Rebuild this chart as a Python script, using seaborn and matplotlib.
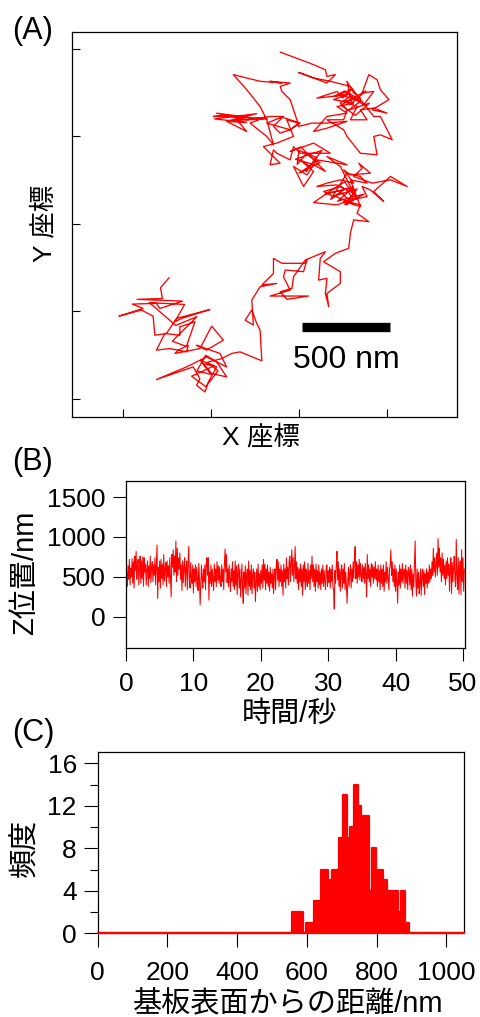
import numpy as np
import pandas as pd
import matplotlib
matplotlib.use("Agg")
import matplotlib.pyplot as plt
import seaborn as sns

# ---------------- data ----------------
# (A) lateral trajectory, nm
traj_x = [262, 213, 224, 80, 338, 209, 190, 53, 114, -23, 105, 171, 181, 247, 304, 494, 333, 295,
          350, 150, 300, 420, 280, 360,
          409, 323,
          323, 238, 190, 266, 361, 371, 314, 295, 437, 504, 570, 475, 418, 551, 589, 475, 361, 190, 399, 437,
          418, 466, 485, 532, 456, 504, 589, 532,
          470, 420, 500, 440, 520, 390, 470, 540, 480, 560,
          618, 665, 789, 779,
          760, 732, 694, 741, 732, 779, 874, 789, 855, 855, 903, 1036, 1045, 1026, 922, 912, 950, 836, 1055,
          931, 893, 960, 969, 1036, 1150, 1121, 1112, 1159, 1150, 1169, 1159, 1235, 1235, 1140, 1207, 1283,
          1292, 1311, 1397, 1330, 1349,
          1273, 1216, 1083, 1159, 1254, 1197, 1140, 1235, 1311, 1273, 1292, 1387, 1359, 1406, 1482, 1425,
          1520, 1615, 1520, 1416, 1311, 1359, 1340, 1406, 1292, 1254, 1311, 1235, 1159, 1102, 1216, 1273,
          1311, 1254, 1349, 1292, 1387, 1349, 1273,
          1180, 1240, 1300, 1200, 1330, 1260, 1370, 1290, 1220, 1310, 1150, 1260, 1330,
          1235, 1159, 1273, 1102, 1045, 969, 1026, 1083, 1007,
          1060, 1000, 1120, 1040, 990,
          1000, 1100, 1040, 1130, 980, 1080, 1150, 1010,
          950, 1083, 1178, 1007, 969, 950, 874, 855,
          836, 893, 798, 874, 969, 931, 998, 950, 893, 855, 912, 817, 950, 1007,
          893, 836, 703, 532, 675, 513,
          560, 820, 600, 760, 520, 700,
          589, 703, 646, 798, 722, 817, 855, 817, 779, 703, 627, 779, 903,
          836, 950, 893, 903, 950, 988, 998, 1074, 1159, 1273, 1159, 1083,
          1159, 1273, 1216, 1311, 1197, 1273, 1102, 1216,
          1250, 1300, 1230, 1320, 1260, 1200, 1290,
          1350, 1280, 1400, 1320, 1240, 1380, 1300,
          1273, 1311, 1349, 1254, 1330, 1292, 1387, 1349,
          1425, 1501, 1416, 1511, 1463, 1444, 1397, 1359, 1425, 1368, 1292, 1235, 1273, 1254, 1159, 1254,
          1273, 1349, 1444, 1425, 1463, 1530, 1463, 1425,
          1292, 1178, 1083, 998, 1159, 1207, 1159, 1150, 1083, 893]
traj_y = [693, 635, 574, 569, 559, 517, 546, 542, 517, 473, 508, 473, 364, 374, 460, 511, 460, 441,
          540, 550, 420, 470, 330, 300,
          441, 412,
          364, 374, 279, 288, 269, 307, 279, 260, 288, 416, 336, 279, 307, 260, 183, 240, 183, 111, 183, 116,
          78, 40, 97, 183, 202, 145, 126, 212,
          250, 160, 140, 220, 190, 130, 70, 160, 210, 230,
          260, 269, 218, 393,
          431, 508, 450, 422, 565, 641, 660, 651, 717, 803, 775, 775, 794, 727, 737, 698, 622, 588, 588,
          569, 612, 632, 698, 794, 841, 803, 679, 689, 603, 527, 603, 660, 727, 784, 832, 861,
          946, 1023, 1013, 1061, 1109,
          1128, 1109, 1122, 1175, 1194, 1156, 1185, 1214, 1175, 1109, 1137, 1156, 1214, 1194, 1128, 1185,
          1271, 1214, 1252, 1233, 1271, 1318, 1347, 1290, 1280, 1309, 1233, 1252, 1233, 1214, 1223, 1194,
          1137, 1128, 1099, 1252, 1233, 1271, 1290,
          1140, 1180, 1120, 1160, 1200, 1110, 1170, 1150, 1130, 1210, 1170, 1240, 1140,
          1328, 1385, 1338, 1366, 1280, 1328, 1214, 1299, 1366,
          1330, 1290, 1350, 1400, 1340,
          1420, 1380, 1300, 1420, 1370, 1340, 1300, 1440,
          1414, 1462, 1404, 1404, 1442, 1366, 1404, 1423,
          1338, 1347, 1442, 1462, 1500, 1595, 1576, 1538, 1519, 1557, 1614, 1576, 1538, 1576,
          1614, 1614, 1595, 1633, 1614, 1614,
          1620, 1600, 1590, 1630, 1600, 1580,
          1586, 1528, 1595, 1605, 1576, 1500, 1452, 1595, 1671, 1767, 1853, 1815, 1805,
          1815, 1805, 1786, 1757, 1710, 1595, 1557, 1576, 1576, 1586, 1547, 1528,
          1614, 1633, 1671, 1690, 1710, 1738, 1719, 1757,
          1720, 1770, 1740, 1710, 1760, 1730, 1745,
          1700, 1650, 1690, 1620, 1680, 1760, 1690,
          1815, 1748, 1719, 1700, 1671, 1595, 1595, 1652,
          1662, 1633, 1652, 1710, 1767, 1824, 1853, 1748, 1757, 1681, 1729, 1690, 1652, 1595, 1595, 1538,
          1500, 1404, 1395, 1500, 1509, 1481, 1614, 1614,
          1786, 1815, 1834, 1866, 1805, 1853, 1843, 1881, 1910, 1982]
scale_bar_x = [1020, 1520]
scale_bar_y = [412, 412]
scale_label = "500 nm"
tick_a_x = [0, 500, 1000, 1500]
tick_a_y = [0, 500, 1000, 1500, 2000]

# (B) Z position time series, nm (0.1 s sampling)
z_pos = [
    430, 560, 380, 640, 470, 720, 400, 610, 500, 730, 420, 690, 360, 760, 580, 820, 470, 660, 720, 400,
    610, 760, 420, 700, 480, 750, 380, 740, 560, 660, 400, 600, 700, 380, 640, 480, 760, 430, 620, 690,
    440, 650, 520, 740, 400, 660, 900, 230, 620, 440, 700, 360, 720, 480, 660, 400, 780, 450, 600, 680,
    380, 700, 500, 640, 420, 740, 480, 250, 780, 620, 840, 520, 760, 560, 950, 440, 860, 520, 740, 600,
    800, 470, 650, 330, 700, 430, 620, 740, 380, 600, 700, 340, 650, 880, 480, 360, 680, 500, 420, 650,
    300, 600, 440, 650, 380, 620, 460, 330, 670, 480, 150, 420, 650, 470, 360, 600, 440, 650, 340, 660,
    740, 520, 740, 210, 560, 420, 650, 380, 600, 460, 330, 660, 440, 600, 380, 690, 460, 640, 420, 620,
    470, 380, 650, 440, 600, 340, 660, 850, 560, 780, 430, 600, 380, 650, 460, 320, 600, 440, 690, 380,
    580, 340, 700, 400, 640, 280, 560, 660, 360, 600, 250, 440, 660, 320, 170, 560, 360, 640, 290, 520,
    600, 270, 700, 380, 580, 340, 650, 290, 520, 600, 360, 560, 190, 440, 600, 320, 660, 380, 540, 340,
    580, 420, 650, 360, 720, 460, 660, 340, 600, 420, 650, 380, 560, 320, 620, 420, 540, 360, 600, 290,
    520, 600, 340, 650, 720, 460, 690, 380, 600, 440, 650, 380, 580, 270, 660, 440, 600, 360, 740, 480,
    620, 400, 690, 760, 440, 660, 840, 520, 740, 440, 640, 880, 480, 690, 420, 620, 340, 600, 440, 660,
    380, 600, 270, 650, 440, 690, 340, 600, 460, 380, 670, 420, 580, 340, 650, 480, 760, 440, 650, 380,
    600, 320, 660, 440, 580, 360, 650, 400, 560, 340, 600, 420, 650, 380, 580, 460, 340, 600, 650, 380,
    580, 430, 620, 360, 600, 440, 650, 380, 340, 100, 580, 420, 650, 820, 460, 690, 380, 600, 320, 560,
    650, 360, 600, 420, 670, 340, 560, 400, 170, 440, 620, 380, 560, 650, 360, 600, 440, 690, 480, 740,
    880, 480, 690, 420, 650, 500, 720, 460, 670, 520, 440, 650, 480, 620, 420, 670, 520, 250, 780, 480,
    650, 440, 600, 380, 670, 500, 650, 420, 620, 480, 690, 460, 600, 380, 650, 440, 580, 340, 650, 420,
    600, 380, 650, 320, 560, 440, 690, 420, 620, 480, 340, 600, 650, 840, 520, 690, 440, 600, 380, 650,
    320, 600, 440, 170, 560, 400, 650, 360, 600, 440, 670, 420, 560, 600, 360, 650, 420, 580, 340, 620,
    560, 400, 650, 340, 600, 260, 540, 380, 650, 950, 440, 260, 600, 360, 560, 290, 420, 600, 270, 520,
    600, 380, 580, 280, 540, 420, 600, 360, 560, 420, 650, 440, 600, 480, 690, 520, 860, 560, 740, 500,
    660, 800, 520, 980, 620, 860, 560, 740, 440, 800, 520, 720, 480, 650, 400, 700, 480, 740, 520, 660,
    320, 600, 740, 290, 680, 440, 620, 760, 480, 380, 970, 520, 340, 740, 290, 620, 700, 280, 840, 440,
    740, 320, 600]
dt = 0.1
time_s = np.arange(len(z_pos)) * dt
tick_b_x = [0, 10, 20, 30, 40, 50]
tick_b_y = [0, 500, 1000, 1500]

# (C) histogram of distance from substrate, 10.5 nm bins over 0-1050 nm
bin_width = 10.5
hist_counts = ([0] * 53 +
               [2, 2, 2, 0, 1, 1, 3, 3, 6, 6, 5, 6, 6, 9, 13, 9, 10, 14, 12, 11, 11, 4, 8, 6, 6, 5,
                4, 4, 4, 2, 4, 1] +
               [0] * 15)
tick_c_x = [0, 200, 400, 600, 800, 1000]
tick_c_y = [0, 4, 8, 12, 16]
tick_c_y_minor = [2, 6, 10, 14]

# ---------------- style ----------------
sns.set_theme(style="white")
plt.rcParams["font.family"] = ["Liberation Sans", "Noto Sans CJK JP", "DejaVu Sans"]
plt.rcParams["axes.linewidth"] = 0.9
plt.rcParams["axes.edgecolor"] = "black"
for k in ("text.color", "axes.labelcolor", "xtick.color", "ytick.color"):
    plt.rcParams[k] = "black"
FS_TICK = 19
FS_PANEL = 22

fig = plt.figure(figsize=(4.8, 10.17), dpi=100)
axA = fig.add_axes([0.150, 0.590, 0.802, 0.3786])
axB = fig.add_axes([0.2625, 0.3628, 0.7063, 0.1642])
axC = fig.add_axes([0.2035, 0.0823, 0.7632, 0.1786])

for ax in (axA, axB, axC):
    for s in ax.spines.values():
        s.set_visible(True)
        s.set_color("black")
        s.set_linewidth(0.9)

# ---- (A) ----
dfA = pd.DataFrame({"x": traj_x, "y": traj_y})
sns.lineplot(data=dfA, x="x", y="y", sort=False, estimator=None, color="#ff0000",
             linewidth=0.95, ax=axA)
axA.plot(scale_bar_x, scale_bar_y, color="black", linewidth=6.7, solid_capstyle="butt")
axA.text(np.mean(scale_bar_x), 221, scale_label, ha="center", va="center", fontsize=23)
axA.set_xlim(-290, 1898)
axA.set_ylim(-103, 2097)
axA.set_xticks(tick_a_x)
axA.set_yticks(tick_a_y)
axA.set_xticklabels([])
axA.set_yticklabels([])
axA.tick_params(direction="in", length=6, width=0.8, color="black", bottom=True, left=True)
axA.set_xlabel("")
axA.set_ylabel("")

# ---- (B) ----
dfB = pd.DataFrame({"t": time_s, "z": z_pos})
sns.lineplot(data=dfB, x="t", y="z", color="#ff0000", linewidth=0.75, ax=axB)
axB.set_xlim(0, 50.3)
axB.set_ylim(-390, 1700)
axB.set_xticks(tick_b_x)
axB.set_yticks(tick_b_y)
axB.tick_params(axis="both", direction="out", length=9.5, width=0.8, color="black",
                labelsize=FS_TICK, bottom=True, left=True)
axB.tick_params(axis="x", pad=8)
axB.tick_params(axis="y", pad=5)
axB.set_xlabel("")
axB.set_ylabel("")

# ---- (C) ----
centers = np.arange(len(hist_counts)) * bin_width + bin_width / 2
dfC = pd.DataFrame({"d": centers, "n": hist_counts})
sns.histplot(data=dfC, x="d", weights="n", binwidth=bin_width,
             binrange=(0, bin_width * len(hist_counts)), element="step", fill=True,
             color="#ff0000", alpha=1.0, linewidth=1.6, ax=axC, zorder=3)
for art in axC.collections + axC.lines:
    art.set_clip_on(False)
axC.set_xlim(0, 1051)
axC.set_ylim(0, 17.1)
axC.set_xticks(tick_c_x)
axC.set_yticks(tick_c_y)
axC.set_yticks(tick_c_y_minor, minor=True)
axC.tick_params(axis="both", which="major", direction="out", length=10, width=0.8,
                color="black", labelsize=FS_TICK, bottom=True, left=True)
axC.tick_params(axis="y", which="minor", direction="out", length=6, width=0.8,
                color="black", left=True)
axC.tick_params(axis="x", pad=10)
axC.tick_params(axis="y", pad=5)
axC.spines["bottom"].set_visible(False)
axC.set_xlabel("")
axC.set_ylabel("")

# ---- labels ----
W, H = 480, 1017
def ftext(x, y, s, fs, **kw):
    fig.text(x / W, 1 - y / H, s, fontsize=fs, ha="center", va="center", **kw)

ftext(33, 31, "(A)", FS_PANEL)
ftext(44, 223, "Y 座標", 19, rotation=90)
ftext(261, 437, "X 座標", 19)
ftext(33, 462, "(B)", FS_PANEL)
ftext(25, 573, "Z位置/nm", 21, rotation=90)
ftext(290, 714, "時間/秒", 21)
ftext(33, 733, "(C)", FS_PANEL)
ftext(25, 848, "頻度", 21, rotation=90)
ftext(288, 1004, "基板表面からの距離/nm", 21)

fig.savefig("out.png", dpi=100)
